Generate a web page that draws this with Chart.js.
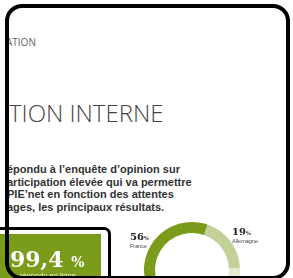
<!DOCTYPE html>
<html lang="fr">
<head>
<meta charset="utf-8">
<script src="https://cdn.jsdelivr.net/npm/chart.js@4/dist/chart.umd.min.js"></script>
<style>
  html, body { margin: 0; padding: 0; background: #fff; }
  body { width: 293px; height: 278px; overflow: hidden; position: relative; }
  .abs { position: absolute; white-space: nowrap; }
  #kicker { left: 6px; top: 35px; font: 10px 'Open Sans', sans-serif; color: #666; }
  #title { left: 9px; top: 96px; font: 300 24px 'Open Sans', sans-serif; color: #444; }
  #intro { left: 7px; top: 163px; font: bold 11px/12.6px 'Liberation Sans', Arial, sans-serif; color: #333; }
  #donut { left: 144px; top: 222px; }
  .lbl { font-family: 'DejaVu Serif', serif; color: #222; }
  .lbl b { font-size: 10px; }
  .lbl small { font-size: 5px; font-weight: bold; }
  .lbl span { display: block; font: 5.5px 'Liberation Sans', Arial, sans-serif; color: #444; margin-top: -1px; }
  #box { left: -10px; top: 227px; width: 115px; height: 80px; border: 3px solid #000; border-radius: 7px; background: #fff; }
  #green { left: 0; top: 4px; width: 108px; height: 80px; background: #7b9b1b; }
  #big { left: 17px; top: 12px; font: bold 22px 'DejaVu Serif', serif; color: #fff; }
  #big small { font-size: 14px; }
  #sub { left: 27px; top: 37px; font: 7.5px 'Liberation Sans', Arial, sans-serif; color: #eef3df; }
  #frame { left: 5px; top: 4px; width: 277px; height: 268px; border: 4px solid #000; border-radius: 17px; }
</style>
</head>
<body>
<div id="kicker" class="abs">ATION</div>
<div id="title" class="abs">TION INTERNE</div>
<div id="intro" class="abs">épondu à l’enquête d’opinion sur<br>articipation élevée qui va permettre<br>PIE’net en fonction des attentes<br>ages, les principaux résultats.</div>

<canvas id="donut" class="abs" width="96" height="96"></canvas>
<div id="lblFrance" class="abs lbl" style="left:130px; top:225px;"></div>
<div id="lblAllemagne" class="abs lbl" style="left:232px; top:220px;"></div>

<div id="box" class="abs">
  <div id="green" class="abs">
    <div id="big" class="abs">99,4 <small>%</small></div>
    <div id="sub" class="abs">répondu en ligne</div>
  </div>
</div>

<div id="frame" class="abs"></div>

<script>
// Répartition des répondants par pays
const categories = ['Allemagne', 'Autres', 'France'];
const shares = [19, 25, 56];
const sliceColors = ['#c1d197', '#e4ecd0', '#7b9b1b'];

// Étiquettes affichées autour de l'anneau
function fillLabel(id, name) {
  const i = categories.indexOf(name);
  document.getElementById(id).innerHTML =
    '<b>' + shares[i] + '</b><small>%</small><span>' + categories[i] + '</span>';
}
fillLabel('lblFrance', 'France');
fillLabel('lblAllemagne', 'Allemagne');

new Chart(document.getElementById('donut'), {
  type: 'doughnut',
  data: {
    labels: categories,
    datasets: [{
      data: shares,
      backgroundColor: sliceColors,
      borderWidth: 0,
    }],
  },
  options: {
    responsive: false,
    animation: false,
    rotation: 18.8, // l'Allemagne commence juste à droite du haut
    cutout: '77%',
    plugins: {
      legend: { display: false },
      tooltip: { enabled: false },
    },
  },
});
</script>
</body>
</html>
